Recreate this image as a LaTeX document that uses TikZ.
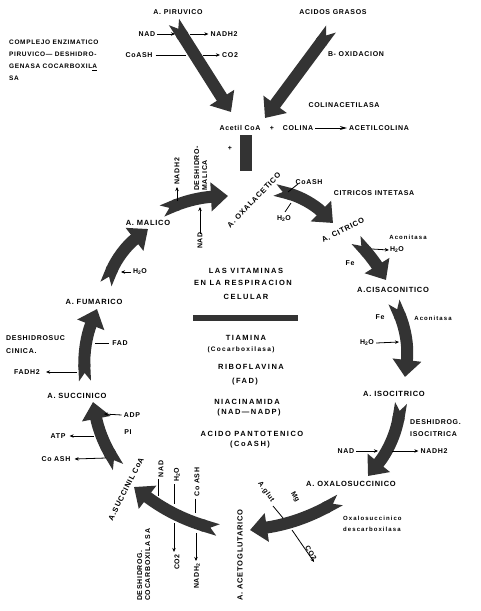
\documentclass[tikz,border=0pt]{standalone}
\usepackage{fontspec}
\setmainfont{Liberation Sans}
\newfontfamily\lblfont[LetterSpace=10]{Liberation Sans}
\newfontfamily\ctrfont[LetterSpace=20]{Liberation Sans}
\newfontfamily\lowfont[LetterSpace=18]{Liberation Sans}
\usetikzlibrary{arrows.meta}
\definecolor{fatgray}{HTML}{333333}
\tikzset{
  lbl/.style={font=\lblfont\bfseries\fontsize{7}{8}\selectfont, inner sep=0pt},
  cyc/.style={font=\lblfont\bfseries\fontsize{7.5}{8}\selectfont, inner sep=0pt},
  ctr/.style={font=\ctrfont\bfseries\fontsize{7.5}{9}\selectfont, inner sep=0pt},
  low/.style={font=\lowfont\bfseries\fontsize{6}{11}\selectfont, inner sep=0pt},
  fat/.style={draw=fatgray, line width=12pt, {Triangle Cap[reversed,length=8pt]}-{Triangle[width=28pt,length=17pt]}},
  sa/.style={line width=0.8pt, -{Stealth[length=4pt,width=3.5pt]}},
  sl/.style={line width=0.8pt},
  barbox/.style={fill=fatgray, draw=none},
}
\begin{document}
\begin{tikzpicture}[x=1pt,y=-1pt]
\useasboundingbox[fill=white] (0,0) rectangle (481,611);

% ---------- top ----------
\node[lbl] (pir) at (178,12) {A. PIRUVICO};
\node[lbl] (gra) at (333,12) {ACIDOS GRASOS};
\node[lbl, font=\lblfont\bfseries\fontsize{6.5}{12}\selectfont, align=left, anchor=north west] (compl) at (9,40)
  {COMPLEJO ENZIMATICO\\PIRUVICO— DESHIDRO-\\GENASA COCARBOXIL\underline{A}\\SA};
\node[lbl] (nad1) at (147,34) {NAD};
\node[lbl] (nadh1) at (224,34) {NADH2};
\node[lbl] (coa1) at (139,55) {CoASH};
\node[lbl] (co21) at (230,55) {CO2};
\node[lbl] (box) at (356,54) {B- OXIDACION};
\node[lbl] (colin) at (344,105) {COLINACETILASA};
\node[lbl] (acoa) at (240,128) {Acetil CoA};
\node[lbl] (plus1) at (272,128) {+};
\node[lbl] (colina) at (298,128) {COLINA};
\node[lbl] (acol) at (379,128) {ACETILCOLINA};
\node[lbl] (plus2) at (230,148) {+};
\path[barbox] (240,135) rectangle (252,171);

\coordinate (pt) at (174,22);  \coordinate (ph) at (231,112);
\coordinate (gt) at (331,29);  \coordinate (gh) at (265,118);
\draw[fat] (pt) -- (ph);
\draw[fat] (gt) -- (gh);
\coordinate (p1) at (175,34); \coordinate (p2) at (190,34);
\coordinate (p3) at (186,55); \coordinate (p4) at (203,55);
\draw[sa] (nad1.east) ++(2,0) -- (p1);
\draw[sa] (p2) -- ([xshift=-2pt]nadh1.west);
\draw[sl] (coa1.east) ++(3,0) -- (p3);
\draw[sa] (p4) -- ([xshift=-2pt]co21.west);
\draw[sa, -{Stealth[length=7pt,width=4pt]}] ([xshift=2pt]colina.east) -- ([xshift=-2pt]acol.west);

% ---------- centre ----------
\node[ctr] (v1) at (246,271) {LAS VITAMINAS};
\node[ctr] (v2) at (243,283) {EN LA RESPIRACION};
\node[ctr] (v3) at (246,297) {CELULAR};
\path[barbox] (193,315) rectangle (298,321);
\node[ctr] (v4) at (246,338) {TIAMINA};
\node[ctr, font=\ctrfont\bfseries\fontsize{6.5}{8}\selectfont] (v5) at (241,350) {(Cocarboxilasa)};
\node[ctr] (v6) at (251,367) {RIBOFLAVINA};
\node[ctr] (v7) at (245,382) {(FAD)};
\node[ctr] (v8) at (247,402) {NIACINAMIDA};
\node[ctr] (v9) at (249,413) {(NAD—NADP)};
\node[ctr] (v10) at (252,434) {ACIDO PANTOTENICO};
\node[ctr] (v11) at (250,445) {(CoASH)};

% ---------- cycle labels ----------
\node[cyc] (mal) at (148,223) {A. MALICO};
\node[cyc, rotate=46] (oxa) at (254,200) {A. OXALACETICO};
\node[cyc, rotate=27] (cit) at (343,230) {A. CITRICO};
\node[cyc] (cis) at (393,290) {A.CISACONITICO};
\node[cyc] (iso) at (394,394) {A. ISOCITRICO};
\node[cyc] (oxs) at (351,484) {A. OXALOSUCCINICO};
\node[cyc, rotate=90] (acg) at (240,555) {A. ACETOGLUTARICO};
\node[cyc, rotate=63] (suc) at (126,489) {A.SUCCINIL CoA};
\node[cyc] (sucn) at (77,396) {A. SUCCINICO};
\node[cyc] (fum) at (94,302) {A. FUMARICO};

% ---------- cycle arrows ----------
\coordinate (c1t) at (162,211); \coordinate (c1h) at (228,196);
\coordinate (c2t) at (275,190); \coordinate (c2h) at (333,223);
\coordinate (c3t) at (356,240); \coordinate (c3h) at (386,280);
\coordinate (c4t) at (394,302); \coordinate (c4h) at (405,377);
\coordinate (c5t) at (401,403); \coordinate (c5h) at (368,476);
\coordinate (c6t) at (340,500); \coordinate (c6h) at (250,530);
\coordinate (c7t) at (218,530); \coordinate (c7h) at (134,487);
\coordinate (c8t) at (118,467); \coordinate (c8h) at (93,402);
\coordinate (c9t) at (85,381);  \coordinate (c9h) at (97,309);
\coordinate (c10t) at (106,284); \coordinate (c10h) at (148,229);
\draw[fat] (c1t) to[bend left=10] (c1h);
\draw[fat] (c2t) to[bend left=15] (c2h);
\draw[fat] (c3t) to[bend left=5] (c3h);
\draw[fat] (c4t) to[bend left=15] (c4h);
\draw[fat] (c5t) to[bend left=15] (c5h);
\draw[fat] (c6t) to[bend left=10] (c6h);
\draw[fat] (c7t) to[bend left=10] (c7h);
\draw[fat] (c8t) to[bend left=10] (c8h);
\draw[fat] (c9t) to[bend left=12] (c9h);
\draw[fat] (c10t) to[bend left=15] (c10h);

% malico -> oxalacetico
\node[lbl, rotate=90, anchor=west] (nadhm) at (177,185) {NADH2};
\node[lbl, rotate=90, anchor=north west, align=left] (deshm) at (194,191) {DESHIDRO-\\MALICA};
\node[lbl, rotate=90, anchor=west] (nadm) at (200,249) {NAD};
\coordinate (m1) at (177,201); \coordinate (m2) at (200,207);
\draw[sa] (m1) -- ([yshift=-2pt]nadhm.west);
\draw[sa] ([yshift=-2pt]nadm.east) -- (m2);

% oxalacetico -> citrico
\node[lbl] (coash2) at (309,182) {CoASH};
\node[lbl] (h2o2) at (284,219) {H\textsubscript{2}O};
\node[lbl] (cits) at (374,193) {CITRICOS INTETASA};
\coordinate (o1) at (288,192); \coordinate (o2) at (298,184);
\coordinate (o3) at (285,212); \coordinate (o4) at (291,203);
\draw[sl] (o1) -- (o2);
\draw[sl] (o3) -- (o4);

% citrico -> cisaconitico
\node[low] (acon1) at (408,237) {Aconitasa};
\node[lbl] (h2o3) at (397,250) {H\textsubscript{2}O};
\node[lbl] (fe1) at (350,263) {Fe};
\coordinate (ci1) at (372,249);
\draw[sa] (ci1) -- ([xshift=-1pt]h2o3.west);

% cisaconitico -> isocitrico
\node[lbl] (fe2) at (380,317) {Fe};
\node[low] (acon2) at (433,318) {Aconitasa};
\node[lbl] (h2o4) at (367,343) {H\textsubscript{2}O};
\coordinate (is1) at (399,342);
\draw[sa] ([xshift=2pt]h2o4.east) -- (is1);

% isocitrico -> oxalosuccinico
\node[lbl, anchor=north west, align=left, font=\lblfont\bfseries\fontsize{7}{12}\selectfont] (desh5) at (410,419) {DESHIDROG.\\ISOCITRICA};
\node[lbl] (nad5) at (346,451) {NAD};
\node[lbl] (nadh5) at (434,451) {NADH2};
\coordinate (x1) at (378,451); \coordinate (x2) at (392,451);
\draw[sa] ([xshift=2pt]nad5.east) -- (x1);
\draw[sa] (x2) -- ([xshift=-2pt]nadh5.west);

% oxalosuccinico -> acetoglutarico
\node[low, anchor=north west, align=left] (oxd) at (343,516) {Oxalosuccinico\\descarboxilasa};
\node[lbl, rotate=-55] (agl) at (266,492) {A.glut};
\node[lbl, rotate=-60] (mg) at (295,497) {Mg};
\node[lbl, rotate=-60] (co26) at (311,553) {CO2};
\coordinate (g1) at (273,506); \coordinate (g2) at (283,518);
\coordinate (g3) at (292,530);
\draw[sl] (g1) -- (g2);
\draw[sa] (g3) -- ([shift={(-1pt,-2pt)}]co26.east);

% acetoglutarico -> succinil CoA
\node[lbl, rotate=90] (nad7) at (161,469) {NAD};
\node[lbl, rotate=90] (h2o7) at (177,475) {H\textsubscript{2}O};
\node[lbl, rotate=90] (coa7) at (197,482) {Co ASH};
\node[lbl, rotate=90] (co27) at (177,562) {CO2};
\node[lbl, rotate=90] (nadh7) at (197,576) {NADH\textsubscript{2}};
\node[lbl, rotate=90, anchor=north west, align=left] (desh7) at (137,601) {DESHIDROG.\\COCARBOXILA SA};
\coordinate (s1) at (158,496); \coordinate (s2) at (174,504);
\coordinate (s3) at (195,513); \coordinate (s4) at (174,523);
\coordinate (s5) at (196,533);
\draw[sl] ([xshift=-3pt,yshift=-2pt]nad7.west) -- (s1);
\draw[sl] ([xshift=-3pt,yshift=-2pt]h2o7.west) -- (s2);
\draw[sl] ([xshift=-2pt,yshift=-2pt]coa7.west) -- (s3);
\draw[sa] (s4) -- ([xshift=-3pt,yshift=2pt]co27.east);
\draw[sa] (s5) -- ([xshift=-1pt,yshift=2pt]nadh7.east);

% succinil -> succinico
\node[lbl] (adp) at (132,415) {ADP};
\node[lbl] (pi) at (128,432) {PI};
\node[lbl] (atp) at (58,436) {ATP};
\node[lbl] (coa8) at (56,459) {Co ASH};
\coordinate (u1) at (104,414); \coordinate (u2) at (94,436); \coordinate (u3) at (106,458);
\draw[sa] ([xshift=-2pt]adp.west) -- (u1);
\draw[sa] (u2) -- ([xshift=4pt]atp.east);
\draw[sa] (u3) -- ([xshift=4pt]coa8.east);

% succinico -> fumarico
\node[lbl] (fad9) at (120,343) {FAD};
\node[lbl] (fadh9) at (27,372) {FADH2};
\node[lbl, anchor=north west, align=left, font=\lblfont\bfseries\fontsize{7}{13}\selectfont] (desh9) at (6,335) {DESHIDROSUC\\CINICA.};
\coordinate (f1) at (95,343); \coordinate (f2) at (77,372);
\draw[sl] (f1) -- ([xshift=-3pt]fad9.west);
\draw[sa] (f2) -- ([xshift=6pt]fadh9.east);

% fumarico -> malico
\node[lbl] (h2o10) at (140,272) {H\textsubscript{2}O};
\coordinate (w1) at (121,272);
\draw[sa] ([xshift=-2pt]h2o10.west) -- (w1);
\end{tikzpicture}
\end{document}
